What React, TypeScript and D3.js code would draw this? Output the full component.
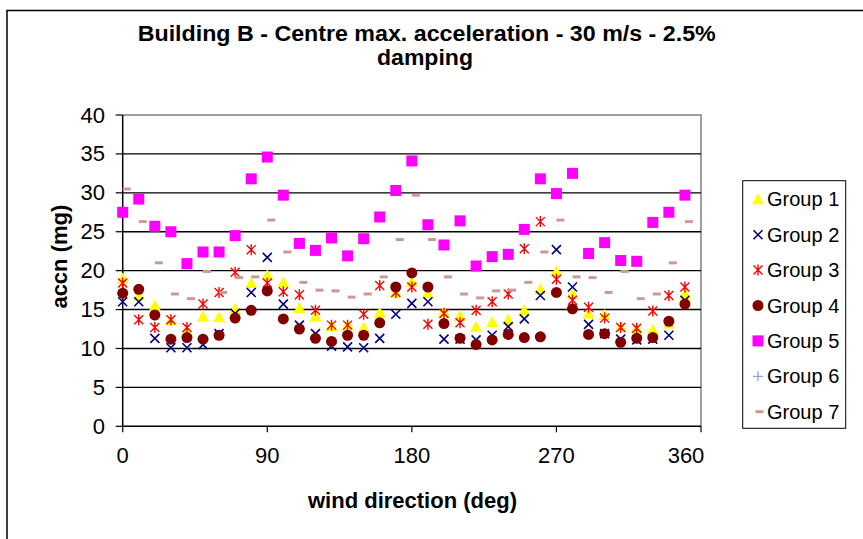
import React from "react";
import * as d3 from "d3";

const angles = [0, 10, 20, 30, 40, 50, 60, 70, 80, 90, 100, 110, 120, 130, 140, 150, 160, 170, 180, 190, 200, 210, 220, 230, 240, 250, 260, 270, 280, 290, 300, 310, 320, 330, 340, 350];

const group1 = [19.0, 16.8, 15.5, 13.6, 12.2, 14.1, 14.0, 15.1, 18.4, 19.4, 18.5, 15.2, 14.1, 12.9, 13.0, 12.7, 14.6, 17.2, 18.6, 17.1, 14.7, 14.2, 12.8, 13.4, 13.7, 14.9, 17.6, 19.9, 17.0, 14.5, 14.3, 12.8, 12.6, 12.4, 13.2, 17.0];
const group2 = [16.0, 16.0, 11.3, 10.1, 10.1, 10.5, 11.9, 14.5, 17.2, 21.7, 15.7, 13.0, 11.9, 10.3, 10.2, 10.1, 11.3, 14.4, 15.8, 16.0, 11.2, 11.2, 11.1, 11.7, 12.8, 13.8, 16.8, 22.7, 17.9, 13.1, 11.9, 11.2, 11.1, 11.2, 11.7, 16.2];
const group3 = [18.4, 13.7, 12.7, 13.7, 12.7, 15.7, 17.2, 19.8, 22.7, 18.4, 17.3, 16.9, 14.9, 13.0, 13.0, 14.4, 18.1, 17.2, 17.9, 13.1, 14.5, 13.3, 14.9, 16.0, 17.0, 22.8, 26.3, 18.9, 16.2, 15.3, 13.9, 12.7, 12.6, 14.8, 16.8, 17.9];
const group4 = [17.1, 17.6, 14.3, 11.2, 11.4, 11.2, 11.7, 13.9, 14.9, 17.4, 13.8, 12.5, 11.3, 10.9, 11.7, 11.7, 13.3, 17.9, 19.7, 17.9, 13.2, 11.3, 10.5, 11.1, 11.8, 11.4, 11.5, 17.2, 15.1, 11.8, 11.9, 10.8, 11.3, 11.4, 13.5, 15.7];
const group5 = [27.5, 29.2, 25.7, 25.0, 20.9, 22.4, 22.4, 24.5, 31.8, 34.6, 29.7, 23.5, 22.6, 24.2, 21.9, 24.1, 26.9, 30.3, 34.1, 25.9, 23.3, 26.4, 20.6, 21.8, 22.1, 25.3, 31.8, 29.9, 32.5, 22.2, 23.6, 21.3, 21.2, 26.2, 27.5, 29.7];
const group6: number[] = [];
const group7 = [30.5, 26.3, 21.0, 17.0, 16.4, 19.9, 17.2, 19.1, 19.2, 26.5, 22.4, 18.5, 17.5, 17.4, 16.6, 17.0, 19.2, 24.0, 29.7, 24.0, 19.2, 17.0, 16.5, 17.4, 17.5, 18.5, 22.4, 26.5, 19.2, 19.1, 17.2, 19.9, 16.4, 17.0, 21.0, 26.3];

const seriesNames = ["Group 1", "Group 2", "Group 3", "Group 4", "Group 5", "Group 6", "Group 7"];
const seriesValues = [group1, group2, group3, group4, group5, group6, group7];
const seriesKinds = ["triangle", "x", "star", "circle", "square", "plus", "dash"];
const seriesColors = ["#FFFF00", "#000080", "#FF0000", "#800000", "#FF00FF", "#8FA3D3", "#CC9999"];

const xTicks = [0, 90, 180, 270, 360];
const yTicks = [0, 5, 10, 15, 20, 25, 30, 35, 40];

const FONT = "'Liberation Sans', Arial, sans-serif";

function Marker({ kind, color, cx, cy }: { kind: string; color: string; cx: number; cy: number }) {
  switch (kind) {
    case "triangle":
      return <path d={`M${cx},${cy - 6}L${cx + 6},${cy + 5}L${cx - 6},${cy + 5}Z`} fill={color} />;
    case "x":
      return (
        <path d={`M${cx - 4.5},${cy - 4.5}L${cx + 4.5},${cy + 4.5}M${cx + 4.5},${cy - 4.5}L${cx - 4.5},${cy + 4.5}`} stroke={color} strokeWidth={1.6} fill="none" />
      );
    case "star":
      return (
        <path d={`M${cx - 4.5},${cy - 4.5}L${cx + 4.5},${cy + 4.5}M${cx + 4.5},${cy - 4.5}L${cx - 4.5},${cy + 4.5}M${cx},${cy - 5.5}L${cx},${cy + 5.5}`} stroke={color} strokeWidth={1.4} fill="none" />
      );
    case "circle":
      return <circle cx={cx} cy={cy} r={5.5} fill={color} />;
    case "square":
      return <rect x={cx - 5.5} y={cy - 5.5} width={11} height={11} fill={color} />;
    case "plus":
      return <path d={`M${cx - 5},${cy}L${cx + 5},${cy}M${cx},${cy - 5}L${cx},${cy + 5}`} stroke={color} strokeWidth={1.3} fill="none" />;
    case "dash":
      return <rect x={cx} y={cy - 1.5} width={8} height={3} fill={color} />;
    default:
      return null;
  }
}

export default function App() {
  const W = 863;
  const H = 539;
  const left = 122.7;
  const right = 701;
  const top = 115;
  const bottom = 426.3;

  const x = d3.scaleLinear().domain([0, 360]).range([left, right]);
  const y = d3.scaleLinear().domain([0, 40]).range([bottom, top]);

  const legendX = 758;
  const legendY0 = 199.3;
  const legendStep = 35.4;

  return (
    <svg width={W} height={H} style={{ position: "absolute", left: 0, top: 0, background: "#fff" }} fontFamily={FONT}>
      <rect x={0} y={0} width={W} height={H} fill="#fff" />
      {/* outer chart border */}
      <path d={`M7,${H + 2}L7,10.5L${W + 2},10.5`} stroke="#000" strokeWidth={1.5} fill="none" />

      {/* title */}
      <text x={426.7} y={41.3} textAnchor="middle" fontSize={22.5} fontWeight="bold" textLength={578} lengthAdjust="spacingAndGlyphs">
        Building B - Centre max. acceleration - 30 m/s - 2.5%
      </text>
      <text x={425} y={65} textAnchor="middle" fontSize={22.5} fontWeight="bold" textLength={96} lengthAdjust="spacingAndGlyphs">
        damping
      </text>

      {/* plot area border (gray) */}
      <path d={`M${left},${top}L${right},${top}L${right},${bottom}`} stroke="#808080" strokeWidth={1.5} fill="none" />

      {/* gridlines */}
      {yTicks.map((t) => (
        <g key={`g${t}`}>
          {t > 0 && t < 40 && <line x1={left} x2={right} y1={y(t)} y2={y(t)} stroke="#000" strokeWidth={1.4} />}
          <line x1={left - 7} x2={left} y1={y(t)} y2={y(t)} stroke="#000" strokeWidth={1.2} />
          <text x={105} y={y(t) + 7.5} textAnchor="end" fontSize={22}>
            {t}
          </text>
        </g>
      ))}

      {/* axes */}
      <line x1={left} x2={left} y1={top} y2={bottom} stroke="#000" strokeWidth={1.5} />
      <line x1={left} x2={right} y1={bottom} y2={bottom} stroke="#000" strokeWidth={1.5} />
      {xTicks.map((t) => (
        <g key={`x${t}`}>
          <line x1={x(t)} x2={x(t)} y1={bottom} y2={bottom + 6} stroke="#000" strokeWidth={1.2} />
          <text x={t === 360 ? x(t) - 15 : x(t)} y={462.7} textAnchor="middle" fontSize={22}>
            {t}
          </text>
        </g>
      ))}

      {/* axis titles */}
      <text x={412.5} y={508.3} textAnchor="middle" fontSize={22} fontWeight="bold">
        wind direction (deg)
      </text>
      <text transform={`translate(67,${(top + bottom) / 2 - 14}) rotate(-90)`} textAnchor="middle" fontSize={22} fontWeight="bold">
        accn (mg)
      </text>

      {/* data */}
      {seriesValues.map((vals, si) => (
        <g key={`s${si}`}>
          {vals.map((v, i) => (
            <Marker key={i} kind={seriesKinds[si]} color={seriesColors[si]} cx={x(angles[i])} cy={y(v)} />
          ))}
        </g>
      ))}

      {/* legend */}
      <rect x={742.7} y={180.7} width={103} height={247.6} fill="#fff" stroke="#000" strokeWidth={1} />
      {seriesNames.map((name, i) => {
        const cy = legendY0 + i * legendStep;
        return (
          <g key={name}>
            <Marker kind={seriesKinds[i]} color={seriesColors[i]} cx={seriesKinds[i] === "dash" ? legendX - 2.5 : legendX} cy={cy} />
            <text x={767} y={cy + 7} fontSize={20}>
              {name}
            </text>
          </g>
        );
      })}
    </svg>
  );
}
